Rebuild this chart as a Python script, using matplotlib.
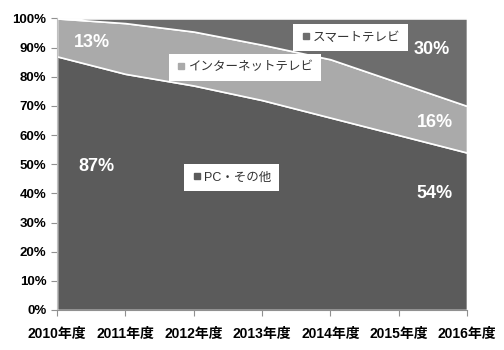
import matplotlib
matplotlib.use("Agg")
import matplotlib.pyplot as plt
from matplotlib.lines import Line2D
from matplotlib.ticker import FuncFormatter

plt.rcParams['font.family'] = ['Liberation Sans', 'Noto Sans CJK JP', 'DejaVu Sans']

years = ['2010年度', '2011年度', '2012年度', '2013年度', '2014年度', '2015年度', '2016年度']
pc_other = [87, 81, 77, 72, 66, 60, 54]
internet_tv = [13, 17.4, 18.5, 19, 20, 18, 16]
smart_tv = [0, 1.6, 4.5, 9, 14, 22, 30]

series_names = ['PC・その他', 'インターネットテレビ', 'スマートテレビ']
colors = ['#5b5b5b', '#aaaaaa', '#6d6d6d']

fig = plt.figure(figsize=(5.04, 3.5), dpi=100)
ax = fig.add_axes([0.1131, 0.1143, 0.8135, 0.833])

x = list(range(len(years)))
ax.stackplot(x, pc_other, internet_tv, smart_tv, colors=colors,
             edgecolor='white', linewidth=1.2)

ax.set_xlim(0, len(years) - 1)
ax.set_ylim(0, 100)
ax.set_xticks(x)
ax.set_xticklabels(years, fontsize=10, fontweight='bold')
ax.set_yticks(range(0, 101, 10))
ax.yaxis.set_major_formatter(FuncFormatter(lambda v, p: f'{int(v)}%'))
for lbl in ax.get_yticklabels():
    lbl.set_fontsize(9.5)
    lbl.set_fontweight('bold')

for side in ['top', 'right']:
    ax.spines[side].set_visible(False)
ax.spines['left'].set_color('#c0c0c0')
ax.spines['bottom'].set_color('#909090')
ax.tick_params(axis='both', direction='out', length=4, color='#909090')
ax.tick_params(axis='x', pad=8)

# value labels at the first and last year
label_style = dict(color='white', fontsize=13, fontweight='bold', ha='center', va='center')
ax.text(0.51, 91.6, f'{internet_tv[0]:.0f}%', **label_style)
ax.text(0.57, 49.2, f'{pc_other[0]}%', **label_style)
ax.text(5.48, 89.2, f'{smart_tv[-1]}%', **label_style)
ax.text(5.53, 64.2, f'{internet_tv[-1]}%', **label_style)
ax.text(5.52, 40.1, f'{pc_other[-1]}%', **label_style)

# one small legend box per series, placed inside its band
legend_pos = [(0.31, 0.501), (0.273, 0.878), (0.576, 0.981)]
for name, col, pos in zip(series_names, colors, legend_pos):
    h = Line2D([], [], marker='s', linestyle='none', markersize=5, color=col)
    leg = ax.legend([h], [name], loc='upper left', bbox_to_anchor=pos,
                    borderaxespad=0, fancybox=False, framealpha=1,
                    edgecolor='none', facecolor='white', fontsize=9,
                    handlelength=0.8, handletextpad=0.2, borderpad=0.6)
    for t in leg.get_texts():
        t.set_color('#333333')
    ax.add_artist(leg)

fig.savefig('out.png', dpi=100)
